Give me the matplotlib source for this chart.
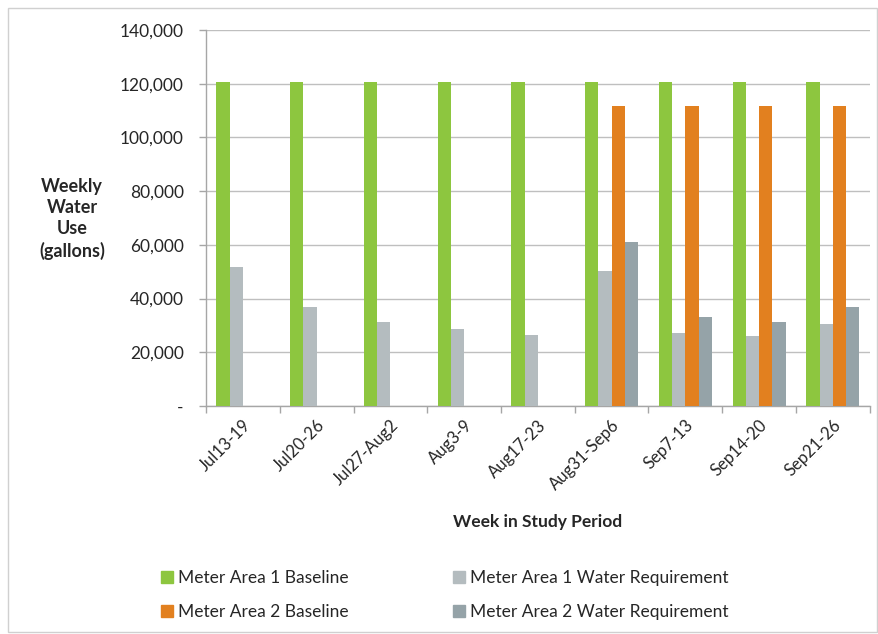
import matplotlib

matplotlib.use("Agg")
import matplotlib.pyplot as plt
import numpy as np
from matplotlib.patches import Patch, Rectangle
from matplotlib.ticker import FuncFormatter
from matplotlib.transforms import ScaledTranslation

plt.rcParams["font.family"] = ["Lato", "DejaVu Sans"]

weeks = ["Jul13-19", "Jul20-26", "Jul27-Aug2", "Aug3-9", "Aug17-23",
         "Aug31-Sep6", "Sep7-13", "Sep14-20", "Sep21-26"]
area1_baseline = [120800] * 9
area1_requirement = [51800, 37000, 31200, 28600, 26300, 50400, 27200, 26000, 30700]
area2_baseline = [0, 0, 0, 0, 0, 111600, 111600, 111600, 111600]
area2_requirement = [0, 0, 0, 0, 0, 61200, 33100, 31200, 37000]

series = [
    ("Meter Area 1 Baseline", area1_baseline, "#8DC63F"),
    ("Meter Area 1 Water Requirement", area1_requirement, "#B4BCBF"),
    ("Meter Area 2 Baseline", area2_baseline, "#E2801F"),
    ("Meter Area 2 Water Requirement", area2_requirement, "#95A3A8"),
]

INK = "#262626"
GRID = "#BFBFBF"

fig = plt.figure(figsize=(8.79, 6.34), dpi=100)
fig.patches.append(Rectangle((0.009, 0.003), 0.989, 0.985, transform=fig.transFigure,
                             fc="none", ec="#D0D0D0", lw=1.0))
ax = fig.add_axes([0.2344, 0.3596, 0.755, 0.5931])

x = np.arange(len(weeks))
w = 0.18
for i, (name, vals, col) in enumerate(series):
    ax.bar(x + (i - 1.5) * w, vals, width=w, color=col, label=name, zorder=3)

ax.set_xlim(-0.5, len(weeks) - 0.5)
ax.set_ylim(0, 140000)
ax.set_yticks(np.arange(0, 140001, 20000))
ax.yaxis.set_major_formatter(FuncFormatter(lambda v, p: "-" if v == 0 else f"{int(v):,}"))
ax.grid(axis="y", color=GRID, lw=1.0, zorder=0)

ax.set_xticks(x)
ax.set_xticklabels(weeks, rotation=45, ha="right", rotation_mode="anchor",
                   fontsize=12, color=INK)
shift = ScaledTranslation(9 / 72, 0, fig.dpi_scale_trans)
for lab in ax.get_xticklabels():
    lab.set_transform(lab.get_transform() + shift)
ax.set_xticks(np.arange(-0.5, len(weeks)), minor=True)
ax.tick_params(axis="x", which="major", length=0, pad=8)
ax.tick_params(axis="x", which="minor", length=5, color="#A6A6A6", width=1)
ax.tick_params(axis="y", length=5, color="#A6A6A6", width=1, labelsize=12.5,
               labelcolor=INK, pad=11)

for s in ("top", "right"):
    ax.spines[s].set_visible(False)
for s in ("left", "bottom"):
    ax.spines[s].set_color("#A6A6A6")
    ax.spines[s].set_linewidth(1.0)

fig.text(0.082, 0.655, "Weekly\nWater\nUse\n(gallons)", ha="center", va="center",
         fontsize=13, fontweight="bold", color=INK, linespacing=1.3)
fig.text(0.611, 0.176, "Week in Study Period", ha="center", va="center",
         fontsize=12.5, fontweight="bold", color=INK)

handles = [Patch(color=col, label=name) for name, vals, col in series]
order = [0, 2, 1, 3]
fig.legend([handles[i] for i in order], [series[i][0] for i in order],
           ncol=2, loc="upper left", bbox_to_anchor=(0.175, 0.112),
           frameon=False, fontsize=12.5, handlelength=0.7, handleheight=0.7,
           handletextpad=0.3, columnspacing=6.0, labelspacing=1.05,
           borderaxespad=0, labelcolor=INK)

fig.savefig("out.png", dpi=100)
